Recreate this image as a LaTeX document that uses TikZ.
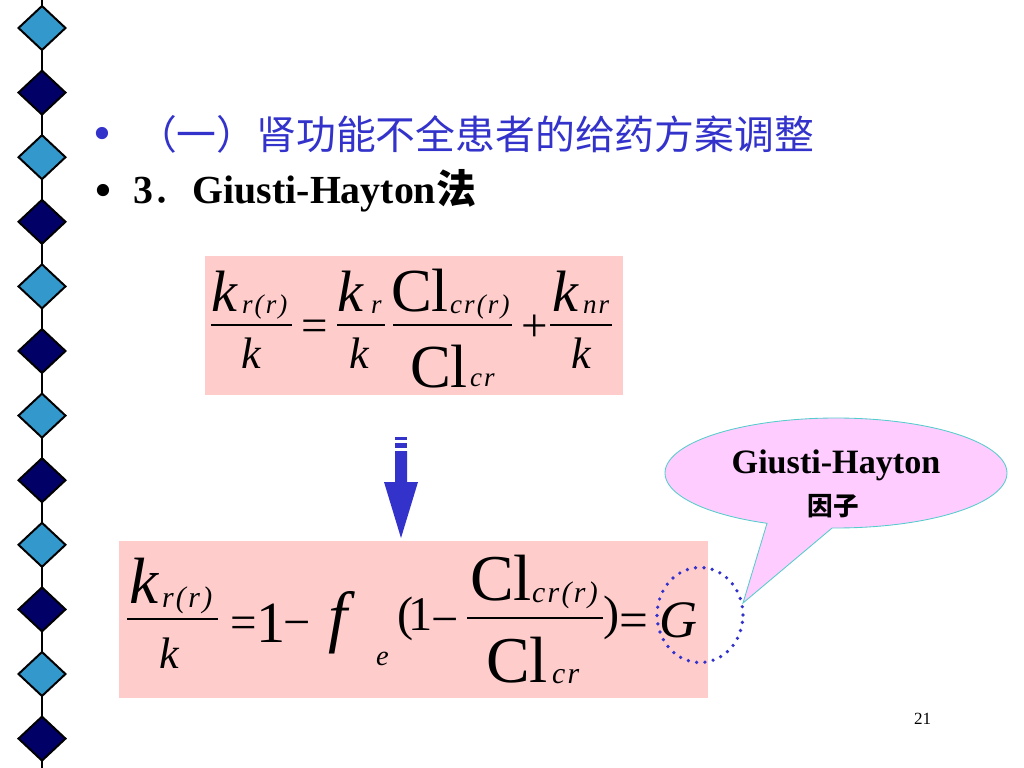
\documentclass[tikz,border=0pt]{standalone}
\usepackage{fontspec}
\setmainfont{Liberation Serif}
\newfontfamily\cjk{Noto Sans CJK SC}
\newfontface\subit[LetterSpace=8]{Liberation Serif Italic}
\newcommand\fsz[1]{\fontsize{#1}{#1}\selectfont}
\definecolor{pinkbox}{HTML}{FFCCCC}
\definecolor{titleblue}{HTML}{3333CC}
\definecolor{lightdia}{HTML}{3399CC}
\definecolor{darkdia}{HTML}{000066}
\definecolor{callfill}{HTML}{FFCCFF}
\definecolor{callline}{HTML}{55CCCC}
\begin{document}
\begin{tikzpicture}[x=0.703125pt,y=-0.703125pt,
  g/.style={anchor=base west,inner sep=0pt,outer sep=0pt},
  gc/.style={anchor=base,inner sep=0pt,outer sep=0pt},
  bar/.style={line width=1pt,black},
  dia/.style={draw=black,line width=1.4pt,line join=miter}]
\useasboundingbox (0,0) rectangle (1024,768);
\fill[white] (0,0) rectangle (1024,768);
% left decorative strip
\draw[black,line width=1.7pt] (42,0) -- (42,768);
\foreach \i in {0,2,...,10}{
  \pgfmathsetmacro{\c}{28+64.6*\i}
  \filldraw[dia,fill=lightdia] (42,\c-22) -- (65.5,\c) -- (42,\c+22) -- (18.5,\c) -- cycle;
}
\foreach \i in {1,3,...,11}{
  \pgfmathsetmacro{\c}{28+64.6*\i}
  \filldraw[dia,fill=darkdia] (42,\c-22) -- (65.5,\c) -- (42,\c+22) -- (18.5,\c) -- cycle;
}
% headings
\node[gc,font=\fsz{36},text=titleblue] (b1) at (102,151) {•};
\node[g,font=\cjk\fsz{28},text=titleblue] (title) at (137,150) {（一）肾功能不全患者的给药方案调整};
\node[gc,font=\fsz{36}] (b2) at (103,208) {•};
\node[g,font=\fsz{28}\bfseries] (line2) at (133,204) {3{\mdseries\cjk ．}Giusti-Hayton{\cjk 法}};
% formula boxes
\fill[pinkbox] (205,256) rectangle (623,395);
\fill[pinkbox] (119,541) rectangle (708,698);
% top formula
\node[g,font=\fsz{41}\itshape] (tk1) at (211,312) {k};
\node[g,font=\subit\fsz{19}] (ts1) at (242,313) {r(r)};
\draw[bar] (211,325) -- (292,325);
\node[g,font=\fsz{31}\itshape] (td1) at (241,368) {k};
\node[g,font=\fsz{33}] (teq) at (301.5,341.6) {=};
\node[g,font=\fsz{41}\itshape] (tk2) at (337,312) {k};
\node[g,font=\subit\fsz{19}] (ts2) at (371,313) {r};
\draw[bar] (337,325) -- (385,325);
\node[g,font=\fsz{31}\itshape] (td2) at (349,368) {k};
\node[g,font=\fsz{43}] (tc1) at (391,312) {Cl};
\node[g,font=\subit\fsz{19}] (ts3) at (450,313) {cr(r)};
\draw[bar] (393,325) -- (512,325);
\node[g,font=\fsz{43}] (tc2) at (410,387) {Cl};
\node[g,font=\subit\fsz{19}] (ts4) at (470,386) {cr};
\node[g,font=\fsz{33}] (tplus) at (521,341.6) {+};
\node[g,font=\fsz{41}\itshape] (tk3) at (552,312) {k};
\node[g,font=\subit\fsz{19}] (ts5) at (583,313) {nr};
\draw[bar] (550,325) -- (612,325);
\node[g,font=\fsz{31}\itshape] (td3) at (571,368) {k};
% bottom formula
\node[g,font=\fsz{46}\itshape] (bk1) at (129,603) {k};
\node[g,font=\subit\fsz{21}] (bs1) at (162,607) {r(r)};
\draw[bar] (127,619) -- (218,619);
\node[g,font=\fsz{31}\itshape] (bd1) at (159,668) {k};
\node[g] (bone) at (230,642) {{\fsz{33}\raisebox{2.8pt}{=}}{\fsz{41}1}\kern-1.5pt{\fsz{34}\raisebox{2.8pt}{−}}};
\node[g,font=\fsz{48}\itshape] (bf) at (328,639) {f};
\node[g,font=\fsz{20}\itshape] (be) at (376,665) {e};
\node[g,font=\fsz{34}] (bp1) at (397,630) {(\kern-3pt1\kern-1pt\raisebox{-4pt}{−}};
\node[g,font=\fsz{46}] (bc1) at (470,600) {Cl};
\node[g,font=\subit\fsz{21}] (bs2) at (532,602) {cr(r)};
\draw[bar] (467,618) -- (603,618);
\node[g,font=\fsz{46}] (bc2) at (486,682) {Cl};
\node[g,font=\subit\fsz{21}] (bs3) at (552,683) {cr};
\node[g] (bp2) at (603,637) {{\fsz{34}\raisebox{5.3pt}{)}}{\fsz{36}=}};
\node[g,font=\fsz{37}\itshape] (bG) at (659,637) {G};
% dotted circle round G
\draw[titleblue,line width=2.6pt,dash pattern=on 0pt off 5.9pt,line cap=round]
  (700,615) ellipse [x radius=30.2pt, y radius=33.4pt];
% callout
\filldraw[fill=callfill,draw=callline,line width=0.6pt]
  ({836+171*cos(91.3)},{473+55*sin(91.3)}) -- (743,603)
  -- ({836+171*cos(113.8)},{473+55*sin(113.8)})
  -- plot[domain=113.8:451.3,samples=120] ({836+171*cos(\x)},{473+55*sin(\x)}) -- cycle;
\node[gc,font=\fsz{24}\bfseries] (gh) at (836,473) {Giusti-Hayton};
\node[gc,font=\cjk\bfseries\fsz{18}] (yz) at (833,515) {因子};
% block arrow
\fill[titleblue] (395,437) rectangle (407,440);
\fill[titleblue] (395,443) rectangle (407,448);
\fill[titleblue] (395,451) -- (407,451) -- (407,482) -- (418,482) -- (401,538)
  -- (384,482) -- (395,482) -- cycle;
% page number
\node[g,font=\fsz{12}] (pn) at (914,724) {21};
\end{tikzpicture}
\end{document}
